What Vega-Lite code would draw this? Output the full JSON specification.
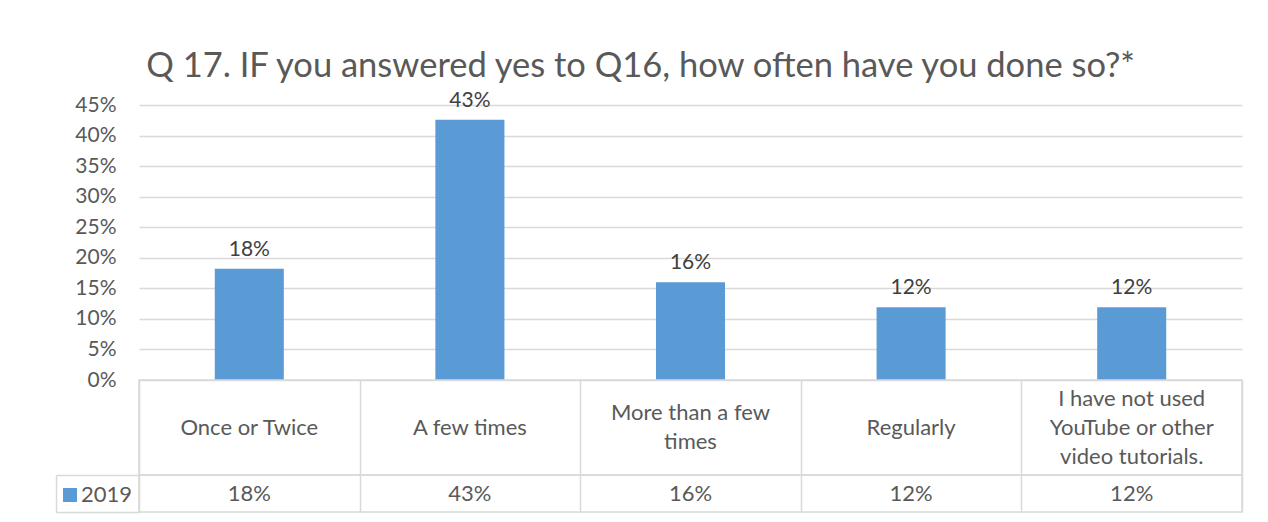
{
  "$schema": "https://vega.github.io/schema/vega-lite/v6.json",
  "background": "white",
  "padding": {"left": 54, "top": 49, "right": 20, "bottom": 5},
  "bounds": "flush",
  "spacing": 0,
  "title": {
    "text": "Q 17. IF you answered yes to Q16, how often have you done so?*",
    "font": "Lato",
    "fontSize": 34.5,
    "fontWeight": "normal",
    "color": "#595959",
    "anchor": "middle",
    "dx": -8,
    "offset": 5
  },
  "config": {
    "font": "Lato",
    "view": {"stroke": null}
  },
  "datasets": {
    "survey": [
      {"category": "Once or Twice", "label": "Once or Twice", "value": 0.182, "series": "2019"},
      {"category": "A few times", "label": "A few times", "value": 0.426, "series": "2019"},
      {"category": "More than a few times", "label": "More than a few\ntimes", "value": 0.16, "series": "2019"},
      {"category": "Regularly", "label": "Regularly", "value": 0.119, "series": "2019"},
      {"category": "I have not used YouTube or other video tutorials.", "label": "I have not used\nYouTube or other\nvideo tutorials.", "value": 0.119, "series": "2019"}
    ]
  },
  "resolve": {"legend": {"color": "independent"}},
  "vconcat": [
    {
      "width": 1103,
      "height": 275,
      "data": {"name": "survey"},
      "encoding": {
        "x": {"field": "category", "type": "nominal", "sort": ["Once or Twice", "A few times", "More than a few times", "Regularly", "I have not used YouTube or other video tutorials."], "scale": {"paddingInner": 0, "paddingOuter": 0}, "axis": null},
        "y": {
          "field": "value",
          "type": "quantitative",
          "scale": {"domain": [0, 0.45]},
          "axis": {
            "title": null,
            "values": [0, 0.05, 0.1, 0.15, 0.2, 0.25, 0.3, 0.35, 0.4, 0.45],
            "format": ".0%",
            "grid": true,
            "gridColor": "#d9d9d9",
            "gridWidth": 1.5,
            "domain": false,
            "ticks": false,
            "labelPadding": 23,
            "labelFontSize": 21,
            "labelColor": "#595959",
            "labelFont": "Lato"
          }
        }
      },
      "layer": [
        {
          "mark": {"type": "bar", "width": {"band": 0.313}},
          "encoding": {
            "color": {
              "field": "series",
              "type": "nominal",
              "scale": {"range": ["#5b9bd5"]},
              "legend": {
                "title": null,
                "orient": "none",
                "legendX": -80,
                "legendY": 379,
                "symbolType": "square",
                "symbolSize": 196,
                "symbolStrokeWidth": 0,
                "symbolFillColor": "#5b9bd5",
                "labelFontSize": 22,
                "labelColor": "#595959",
                "labelFont": "Lato",
                "labelOffset": 0,
                "padding": 0
              }
            }
          }
        },
        {
          "mark": {"type": "text", "baseline": "bottom", "dy": -9, "fontSize": 21, "color": "#404040"},
          "encoding": {"text": {"field": "value", "format": ".0%"}}
        }
      ]
    },
    {
      "width": 1103,
      "height": 95,
      "data": {"name": "survey"},
      "view": {"stroke": "#d9d9d9", "strokeWidth": 1.5},
      "encoding": {
        "x": {
          "field": "category", "type": "nominal",
          "sort": ["Once or Twice", "A few times", "More than a few times", "Regularly", "I have not used YouTube or other video tutorials."],
          "scale": {"paddingInner": 0, "paddingOuter": 0},
          "axis": {"title": null, "labels": false, "ticks": false, "domain": false, "grid": true, "tickBand": "extent", "gridColor": "#d9d9d9", "gridWidth": 1.5}
        },
        "text": {"field": "label"}
      },
      "layer": [
        {
          "transform": [{"filter": "length(split(datum.label, '\\n')) == 1"}],
          "mark": {"type": "text", "lineBreak": "\n", "fontSize": 22, "lineHeight": 29, "color": "#595959"}
        },
        {
          "transform": [{"filter": "length(split(datum.label, '\\n')) == 2"}],
          "mark": {"type": "text", "lineBreak": "\n", "fontSize": 22, "lineHeight": 29, "dy": -14.5, "color": "#595959"}
        },
        {
          "transform": [{"filter": "length(split(datum.label, '\\n')) == 3"}],
          "mark": {"type": "text", "lineBreak": "\n", "fontSize": 22, "lineHeight": 29, "dy": -29, "color": "#595959"}
        }
      ]
    },
    {
      "width": 1103,
      "height": 37,
      "data": {"name": "survey"},
      "view": {"stroke": "#d9d9d9", "strokeWidth": 1.5},
      "mark": {"type": "text", "fontSize": 22, "color": "#595959"},
      "encoding": {
        "x": {
          "field": "category", "type": "nominal",
          "sort": ["Once or Twice", "A few times", "More than a few times", "Regularly", "I have not used YouTube or other video tutorials."],
          "scale": {"paddingInner": 0, "paddingOuter": 0},
          "axis": {"title": null, "labels": false, "ticks": false, "domain": false, "grid": true, "tickBand": "extent", "gridColor": "#d9d9d9", "gridWidth": 1.5}
        },
        "y": {
          "field": "series", "type": "nominal",
          "scale": {"paddingInner": 0, "paddingOuter": 0},
          "axis": {"title": null, "labels": false, "offset": 83, "domain": true, "domainColor": "#d9d9d9", "domainWidth": 1.5, "ticks": true, "tickBand": "extent", "tickSize": -83, "tickColor": "#d9d9d9", "tickWidth": 1.5, "grid": false}
        },
        "text": {"field": "value", "format": ".0%"}
      }
    }
  ]
}
